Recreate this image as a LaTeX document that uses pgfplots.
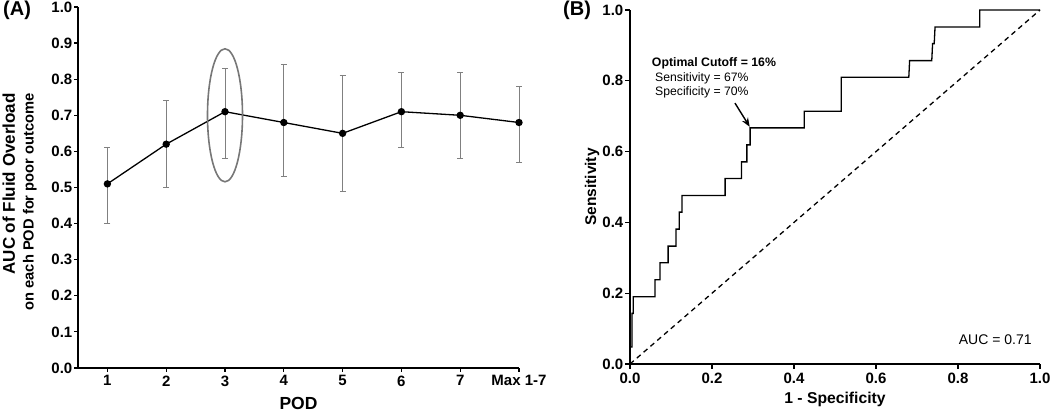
\documentclass[border=0pt]{standalone}
\usepackage{pgfplots}
\pgfplotsset{compat=1.18}
\usepackage{fontspec}
\setmainfont{Liberation Sans}
\usetikzlibrary{arrows.meta}
\definecolor{errgray}{HTML}{808080}
\definecolor{ellgray}{HTML}{777777}
\begin{document}
\begin{tikzpicture}[x=1pt,y=1pt]
\path[use as bounding box] (0,0) rectangle (1050,412);
% ---------------- Panel A ----------------
\begin{axis}[
  at={(78pt,44pt)}, anchor=south west, scale only axis,
  width=441pt, height=361pt,
  xmin=0.5, xmax=8, ymin=0, ymax=1,
  axis x line*=bottom, axis y line*=left,
  axis line style={line width=1.3pt, black},
  xtick={1,2,3,4,5,6,7,8},
  xticklabels={1,2,3,4,5,6,7,Max 1-7},
  ytick={0,0.1,0.2,0.3,0.4,0.5,0.6,0.7,0.8,0.9,1},
  yticklabels={0.0,0.1,0.2,0.3,0.4,0.5,0.6,0.7,0.8,0.9,1.0},
  tick align=outside, major tick length=4pt,
  tick style={line width=1.2pt, black},
  ticklabel style={font=\fontsize{15}{18}\selectfont\bfseries},
  yticklabel style={inner sep=1.5pt},
  clip=false,
]
\addplot[black, line width=1.3pt, mark=*, mark size=3pt,
  error bars/.cd, y dir=both, y explicit,
  error bar style={errgray, line width=0.9pt},
  error mark options={errgray, line width=0.9pt, mark size=3pt, rotate=90}]
  coordinates {
  (1,0.51) += (0,0.10) -= (0,0.11)
  (2,0.62) += (0,0.12) -= (0,0.12)
  (3,0.71) += (0,0.12) -= (0,0.13)
  (4,0.68) += (0,0.16) -= (0,0.15)
  (5,0.65) += (0,0.16) -= (0,0.16)
  (6,0.71) += (0,0.11) -= (0,0.10)
  (7,0.70) += (0,0.12) -= (0,0.12)
  (8,0.68) += (0,0.10) -= (0,0.11)
  };
\draw[ellgray, line width=1.6pt] (axis cs:3,0.70) ellipse [x radius=17.5pt, y radius=66.5pt];
\end{axis}
\node[rotate=90, anchor=base east, inner sep=0, font=\fontsize{17}{20}\selectfont\bfseries] at (15,319) {AUC of Fluid Overload};
\node[rotate=90, anchor=base east, inner sep=0, font=\fontsize{14.7}{18}\selectfont\bfseries] at (33.5,319) {on each POD for poor outcome};
\node[anchor=base, inner sep=0, font=\fontsize{17.5}{20}\selectfont\bfseries] at (298.5,2.5) {POD};
\node[anchor=north west, inner sep=0, font=\fontsize{20}{24}\selectfont\bfseries] at (3,411) {(A)};
% ---------------- Panel B ----------------
\begin{axis}[
  at={(630pt,48pt)}, anchor=south west, scale only axis,
  width=410pt, height=354pt,
  xmin=0, xmax=1, ymin=0, ymax=1,
  axis x line*=bottom, axis y line*=left,
  axis line style={line width=1.3pt, black},
  xtick={0,0.2,0.4,0.6,0.8,1},
  xticklabels={0.0,0.2,0.4,0.6,0.8,1.0},
  ytick={0,0.2,0.4,0.6,0.8,1},
  yticklabels={0.0,0.2,0.4,0.6,0.8,1.0},
  tick align=outside, major tick length=5pt,
  tick style={line width=1.2pt, black},
  ticklabel style={font=\fontsize{15}{18}\selectfont\bfseries},
  yticklabel style={inner sep=1.5pt},
  clip=false,
]
\addplot[black, line width=1.3pt, dash pattern=on 5pt off 4pt] coordinates {(0,0) (1,1)};
\addplot[black, line width=1.3pt] coordinates {
  (0,0) (0,0.048) (0.005,0.048) (0.005,0.143) (0.008,0.143) (0.008,0.190)
  (0.061,0.190) (0.061,0.238) (0.073,0.238) (0.073,0.286) (0.093,0.286) (0.093,0.333)
  (0.112,0.333) (0.112,0.381) (0.120,0.381) (0.120,0.429) (0.127,0.429) (0.127,0.476)
  (0.232,0.476) (0.232,0.524) (0.272,0.524) (0.272,0.571) (0.285,0.571) (0.285,0.619)
  (0.293,0.619) (0.293,0.667) (0.425,0.667) (0.425,0.714) (0.515,0.714) (0.515,0.810)
  (0.680,0.810) (0.682,0.857) (0.736,0.857) (0.738,0.905) (0.742,0.905) (0.744,0.952)
  (0.853,0.952) (0.853,1.0) (1.0,1.0)
  };
\node[anchor=west, inner sep=0, font=\fontsize{12.3}{14}\selectfont\bfseries] at (axis cs:0.053,0.850) {Optimal Cutoff = 16\%};
\node[anchor=west, inner sep=0, font=\fontsize{12.2}{14}\selectfont] at (axis cs:0.061,0.808) {Sensitivity = 67\%};
\node[anchor=west, inner sep=0, font=\fontsize{12.2}{14}\selectfont] at (axis cs:0.061,0.768) {Specificity = 70\%};
\draw[line width=1.4pt, -{Stealth[length=9pt, width=7pt]}] (axis cs:0.256,0.737) -- (axis cs:0.292,0.670);
\node[anchor=east, inner sep=0, font=\fontsize{14}{16}\selectfont] at (axis cs:0.980,0.068) {AUC = 0.71};
\end{axis}
\node[rotate=90, anchor=base, inner sep=0, font=\fontsize{15.5}{18}\selectfont\bfseries] at (596,225) {Sensitivity};
\node[anchor=base, inner sep=0, font=\fontsize{15.7}{18}\selectfont\bfseries] at (835,8) {1 - Specificity};
\node[anchor=north west, inner sep=0, font=\fontsize{20}{24}\selectfont\bfseries] at (563,411) {(B)};
\end{tikzpicture}
\end{document}
